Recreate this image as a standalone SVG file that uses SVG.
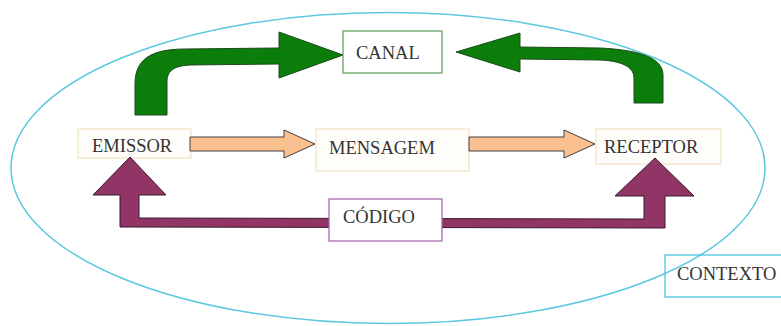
<svg xmlns="http://www.w3.org/2000/svg" width="781" height="326" viewBox="0 0 781 326">
<style>
text{font-family:"Liberation Serif","Times New Roman",serif;font-size:18.5px;fill:#333}
.box{fill:#fffdf9;stroke:#f0e2c4;stroke-width:1.2}
.orange{fill:#fac08f;stroke:#404040;stroke-width:1}
.green{fill:#0a7d0a;stroke:#1c4a1c;stroke-width:1}
.purple{fill:#913566;stroke:#3a1a2c;stroke-width:1}
</style>
<rect width="781" height="326" fill="#fff"/>
<ellipse cx="388" cy="168" rx="377" ry="155.5" fill="none" stroke="#5cc8e0" stroke-width="1.5"/>
<g id="emissor"><rect class="box" x="78" y="129" width="113" height="29"/><text x="92" y="152">EMISSOR</text></g>
<g id="mensagem"><rect class="box" x="316" y="129" width="153" height="42"/><text x="329" y="154">MENSAGEM</text></g>
<g id="receptor"><rect class="box" x="596" y="129" width="125" height="35"/><text x="604" y="153">RECEPTOR</text></g>
<g id="connectors">
<path class="orange" d="M190,137 L284,137 L284,130 L315,144 L284,158 L284,151 L190,151 Z"/>
<path class="orange" d="M469,137 L564,137 L564,130 L595,144 L564,158 L564,151 L469,151 Z"/>
<path class="green" d="M135,115 L135,84 C135,60 150,49 185,49 L279,48 L279,32 L343,55 L279,78 L279,64 L190,65 C172,66 167,72 167,82 L167,115 Z"/>
<path class="green" d="M456,52 L520,33 L520,47 L600,48 C640,50 663,58 663,75 L663,103 L634,103 L634,78 C634,66 620,61 600,60 L520,59 L520,72 Z"/>
<path class="purple" d="M130,157 L166,195 L139,195 L139,218 L644,219 L644,196 L615,196 L655,158 L694,196 L665,196 L665,228 L120,227 L120,195 L93,195 Z"/>
</g>
<g id="canal"><rect x="343" y="31" width="99" height="42" fill="#fff" stroke="#5a9a5a" stroke-width="1.2"/><text x="356" y="59">CANAL</text></g>
<g id="codigo"><rect x="329" y="199" width="113" height="42" fill="#fff" stroke="#a060a8" stroke-width="1.2"/><text x="343" y="223">CÓDIGO</text></g>
<g id="contexto"><rect x="665" y="255" width="120" height="42" fill="none" stroke="#40c0e0" stroke-width="1.2"/><text x="677" y="280">CONTEXTO</text></g>
</svg>
